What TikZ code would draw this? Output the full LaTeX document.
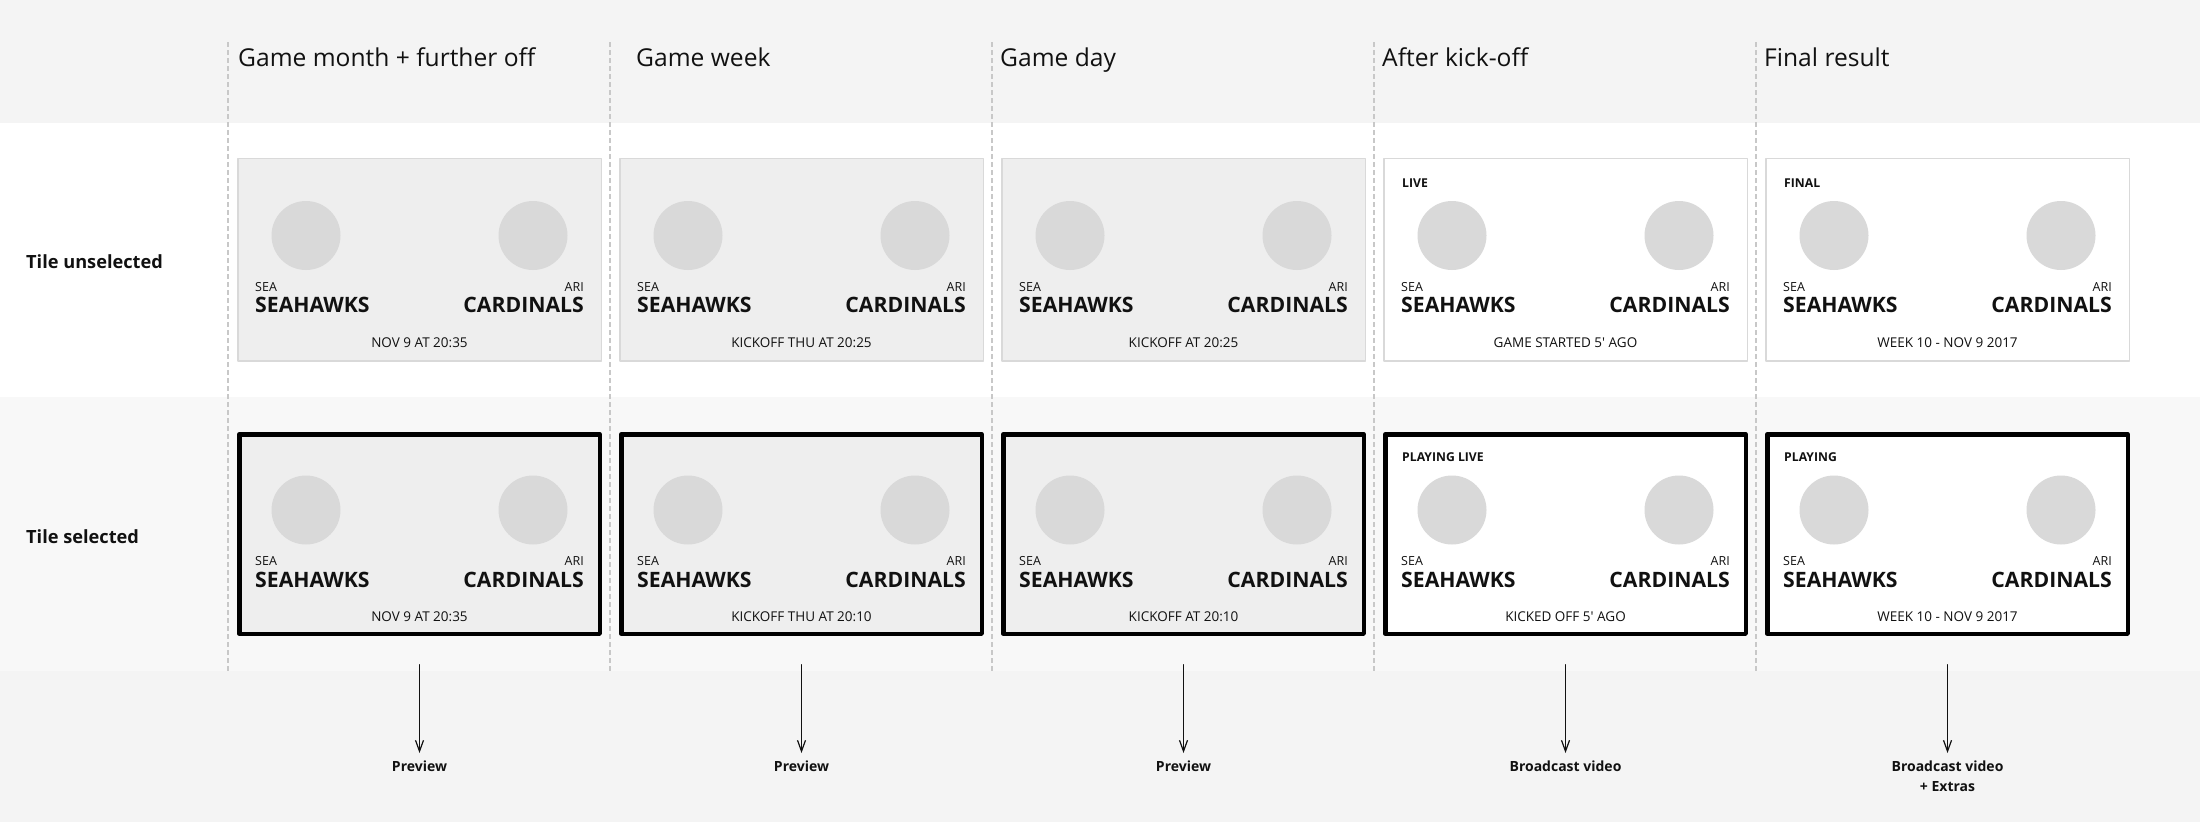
\documentclass[tikz,border=0pt]{standalone}
\usepackage{fontspec}
\setmainfont{Open Sans}
\usepackage{tikz}
\usetikzlibrary{arrows.meta}

\definecolor{bandgray}{HTML}{F4F4F4}
\definecolor{rowgray}{HTML}{F8F8F8}
\definecolor{tilegray}{HTML}{EEEEEE}
\definecolor{crestgray}{HTML}{D9D9D9}
\definecolor{rulegray}{HTML}{C8C8C8}
\definecolor{ink}{HTML}{111111}

\tikzset{
  tileoff/.style={minimum width=363.5pt, minimum height=202.5pt, inner sep=0pt, outer sep=0pt, draw=crestgray, line width=1.5pt},
  tileon/.style={minimum width=360.5pt, minimum height=199.5pt, inner sep=0pt, outer sep=0pt, draw=black, line width=4.5pt},
  crest/.style={fill=crestgray},
  divider/.style={rulegray, line width=1.2pt, line cap=butt, dash pattern=on 5pt off 3pt},
  colhead/.style={anchor=base west, inner sep=0pt, text=ink, font=\fontsize{24.6}{30}\selectfont},
  rowhead/.style={anchor=base west, inner sep=0pt, text=ink, font=\bfseries\fontsize{18.2}{22}\selectfont},
  abbr/.style={inner sep=0pt, text=ink, font=\fontsize{12.5}{15}\selectfont},
  team/.style={inner sep=0pt, text=ink, font=\bfseries\fontsize{21.2}{25}\selectfont},
  when/.style={anchor=base, inner sep=0pt, text=ink, font=\fontsize{13.5}{16}\selectfont},
  status/.style={anchor=base west, inner sep=0pt, text=ink, font=\bfseries\fontsize{12.2}{14}\selectfont},
  outcome/.style={anchor=north, inner sep=0pt, align=center, text=ink, font=\bfseries\fontsize{14}{20}\selectfont}
}

% one match-up inside a tile, drawn around the tile centre
\newcommand{\matchup}[3]{%
  \fill[crest] (-113.5,-24) circle[radius=34.5];
  \fill[crest] ( 113.5,-24) circle[radius=34.5];
  \node[abbr, anchor=base west] (#1sea) at (-164.5,31.7) {SEA};
  \node[abbr, anchor=base east] (#1ari) at ( 164.5,31.7) {ARI};
  \node[team, anchor=base west] (#1home) at (-164.5,53) {SEAHAWKS};
  \node[team, anchor=base east] (#1away) at ( 164.5,53) {CARDINALS};
  \node[when] (#1when) at (0,87.7) {#3};
  \node[status] (#1tag) at (-163.5,-72.5) {#2};
}

\begin{document}
\begin{tikzpicture}[x=1pt, y=-1pt, line cap=round, line join=round, >={Straight Barb[length=11pt,width=8pt]}]
  \useasboundingbox (0,0) rectangle (2200,822);
  % bands
  \fill[bandgray] (0,0) rectangle (2200,123);
  \fill[rowgray] (0,397) rectangle (2200,671);
  \fill[bandgray] (0,671) rectangle (2200,822);
  % row titles
  \node[rowhead] (unsel) at (26,268) {Tile unselected};
  \node[rowhead] (sel) at (26,543) {Tile selected};
  % columns
  \foreach \i/\hx/\head/\bg/\offtag/\ontag/\offtime/\ontime/\result in {
      0/10/Game month + further off/tilegray/{}/{}/NOV 9 AT 20:35/NOV 9 AT 20:35/Preview,
      1/26/Game week/tilegray/{}/{}/KICKOFF THU AT 20:25/KICKOFF THU AT 20:10/Preview,
      2/8/Game day/tilegray/{}/{}/KICKOFF AT 20:25/KICKOFF AT 20:10/Preview,
      3/8/After kick-off/white/LIVE/PLAYING LIVE/GAME STARTED 5\textquotesingle{} AGO/KICKED OFF 5\textquotesingle{} AGO/Broadcast video,
      4/8/Final result/white/FINAL/PLAYING/WEEK 10 - NOV 9 2017/WEEK 10 - NOV 9 2017/Broadcast video\\+ Extras}{
    \pgfmathsetmacro{\cx}{419.5+382*\i}
    \draw[divider] (228+382*\i,42) -- (228+382*\i,671);
    \node[colhead] (head\i) at (228+382*\i+\hx,66.7) {\head};
    % unselected tile
    \node[tileoff, fill=\bg] (off\i) at (\cx,259.5) {};
    \begin{scope}[shift={(\cx,259.5)}]
      \matchup{off\i}{\offtag}{\offtime}
    \end{scope}
    % selected tile
    \node[tileon, fill=\bg] (on\i) at (\cx,534) {};
    \begin{scope}[shift={(\cx,534)}]
      \matchup{on\i}{\ontag}{\ontime}
    \end{scope}
    % what the tile plays
    \node[outcome] (res\i) at (\cx,761) {\result};
    \draw[->, ink, line width=1.2pt, shorten <=31pt, shorten >=8pt] (on\i) -- (res\i);
  }
\end{tikzpicture}
\end{document}
